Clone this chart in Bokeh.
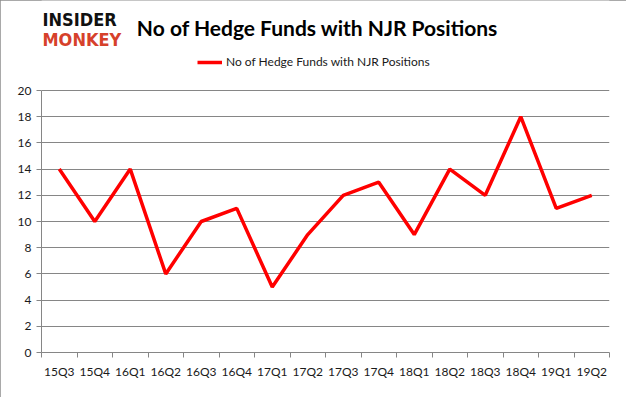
from bokeh.plotting import figure
from bokeh.models import Legend, LegendItem, FixedTicker, Range1d, Label
from bokeh.embed import file_html
from bokeh.resources import INLINE

categories = ["15Q3", "15Q4", "16Q1", "16Q2", "16Q3", "16Q4", "17Q1", "17Q2",
              "17Q3", "17Q4", "18Q1", "18Q2", "18Q3", "18Q4", "19Q1", "19Q2"]
hedge_funds = [14, 10, 14, 6, 10, 11, 5, 9, 12, 13, 9, 14, 12, 18, 11, 12]
y_ticks = [0, 2, 4, 6, 8, 10, 12, 14, 16, 18, 20]
series_name = "No of Hedge Funds with NJR Positions"
title_text = "No of Hedge Funds with NJR Positions"
logo_top = "INSIDER"
logo_bottom = "MONKEY"

xs = list(range(len(categories)))

# frame spans the full height above the x axis (y 0..352); the value axis 0..20 occupies 90..352
PX_PER_UNIT = 262 / 20
y_top = 352 / PX_PER_UNIT

p = figure(width=626, height=397, output_backend="svg", toolbar_location=None,
           x_range=Range1d(-0.5, len(categories) - 0.5), y_range=Range1d(0, y_top),
           min_border_left=41, min_border_right=17, min_border_top=0, min_border_bottom=45)
p.outline_line_color = None
p.styles = {"outline": "1px solid #8c8c8c", "outline-offset": "-1px"}

r = p.line(xs, hedge_funds, line_color="#ff0000", line_width=3.5)

p.xaxis.ticker = FixedTicker(ticks=xs, minor_ticks=[i - 0.5 for i in range(len(categories) + 1)])
p.xaxis.major_label_overrides = {i: c for i, c in enumerate(categories)}
p.xaxis.major_tick_out = 0
p.xaxis.major_tick_in = 0
p.xaxis.minor_tick_out = 5
p.xaxis.minor_tick_in = 0
p.xaxis.minor_tick_line_color = "#868686"
p.xaxis.axis_line_color = "#868686"
p.xaxis.major_label_standoff = 6
p.xgrid.grid_line_color = None

p.yaxis.ticker = FixedTicker(ticks=y_ticks)
p.yaxis.bounds = (min(y_ticks), max(y_ticks))
p.yaxis.major_tick_out = 5
p.yaxis.major_tick_in = 0
p.yaxis.axis_line_color = "#868686"
p.yaxis.major_tick_line_color = "#868686"
p.yaxis.major_label_standoff = 5
p.ygrid.grid_line_color = "#868686"

for ax in (p.xaxis, p.yaxis):
    ax.major_label_text_font = "Lato"
    ax.major_label_text_font_size = "12px"
    ax.major_label_text_color = "#1a1a1a"

# screen units: x from frame left (41), y up from frame bottom (352)
p.add_layout(Label(x=1, y=333, x_units="screen", y_units="screen", text=logo_top,
                   text_font="DejaVu Sans Condensed", text_font_style="bold", text_font_size="18px",
                   text_color="#111111", text_align="left", text_baseline="middle"))
p.add_layout(Label(x=1, y=313, x_units="screen", y_units="screen", text=logo_bottom,
                   text_font="DejaVu Sans Condensed", text_font_style="bold", text_font_size="18px",
                   text_color="#d6412b", text_align="left", text_baseline="middle"))
p.add_layout(Label(x=276, y=325, x_units="screen", y_units="screen", text=title_text,
                   text_font="Lato", text_font_style="bold", text_font_size="21px",
                   text_color="#000000", text_align="center", text_baseline="middle"))

legend = Legend(items=[LegendItem(label=series_name, renderers=[r])],
                location=(156, 283), orientation="horizontal",
                border_line_color=None, background_fill_alpha=0,
                padding=0, margin=0, label_standoff=4, glyph_width=25, glyph_height=14,
                label_text_font="Lato", label_text_font_size="12px", label_text_color="#1a1a1a")
p.add_layout(legend, "center")

open("out.html", "w").write(file_html(p, INLINE))
